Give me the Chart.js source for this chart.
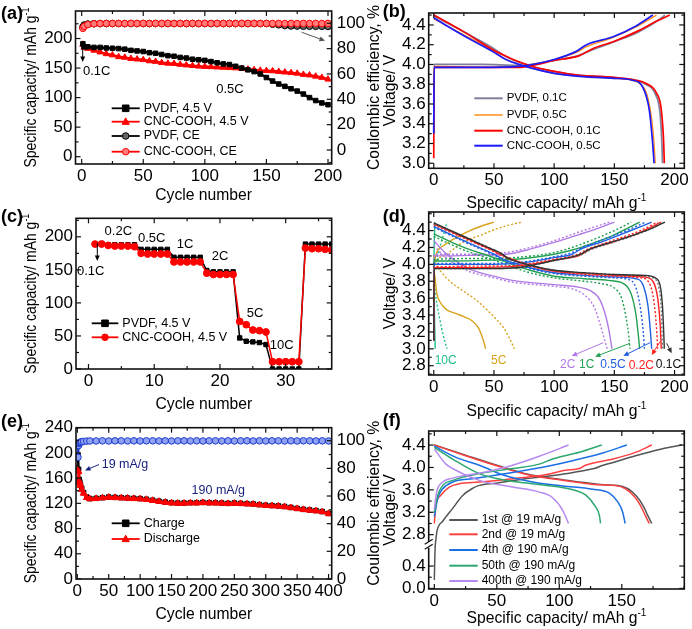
<!DOCTYPE html>
<html><head><meta charset="utf-8">
<script src="https://cdn.jsdelivr.net/npm/chart.js@4.4.1/dist/chart.umd.min.js"></script>
<style>
html,body{margin:0;padding:0;background:#fff;width:692px;height:629px;overflow:hidden;position:relative}
canvas{position:absolute}
</style></head><body>
<canvas id="ca"></canvas><canvas id="cb"></canvas><canvas id="cc"></canvas>
<canvas id="cd"></canvas><canvas id="ce"></canvas><canvas id="cf"></canvas>
<script>
// ---------------- DATA ----------------
// (a) cycling at 4.5 V
const cyclesA = [1,2,5,10,15,20,25,30,35,40,45,50,55,60,65,70,75,80,85,90,95,100,105,110,115,120,125,130,135,140,145,150,155,160,165,170,175,180,185,190,195,200];
const capPVDF_A = [191,186,186,185,185,184,183.5,183,182,180,179,178,176,175,173,171,170,168,167,165,164,163,161,159,157,156,153,150,147,144,140,134,128,123,119,115,111,106,100,95,91,88];
const capCNC_A = [190,185,183,180,177,174,172,169,168,166,165,164,162,161,159,158,157.5,156,155,154,153,152.5,152,151.5,151,150.5,150,149,148,147,146,145.5,145,144,143,142,141,139,138,136,134,131];
const cePVDF_A = [97,98.6,99.4,99.7,99.8,99.8,99.8,99.8,99.8,99.8,99.8,99.8,99.8,99.8,99.8,99.8,99.8,99.8,99.8,99.8,99.8,99.8,99.8,99.8,99.8,99.8,99.8,99.8,99.8,99.8,99.8,99.8,99.3,98.8,98.2,97.9,97.8,97.7,97.7,97.6,97.6,97.5];
const ceCNC_A = [96,97.5,99,99.6,99.8,99.9,99.8,99.9,99.8,99.9,99.8,99.9,99.8,99.9,99.8,99.9,99.8,99.9,99.8,99.9,99.8,99.9,99.8,99.9,99.8,99.9,99.8,99.9,99.8,99.9,99.8,99.9,99.8,99.9,99.8,99.9,99.8,99.9,99.8,99.9,99.8,99.9];
const ticksXA = [0,50,100,150,200], ticksYA = [0,50,100,150,200], ticksY2A = [0,20,40,60,80,100];

// (b) voltage profiles [capacity, voltage]
const bPVDF01_ch = [[0,3.3],[0.3,4.0],[5,4.0],[40,4.0],[70,3.99],[80,4.0],[100,4.04],[120,4.09],[130,4.14],[150,4.23],[170,4.33],[188,4.46],[192,4.5]];
const bPVDF01_dc = [[0,4.49],[25,4.33],[50,4.16],[57,4.1],[65,4.05],[82,3.98],[100,3.93],[121,3.89],[149,3.87],[168,3.84],[176,3.8],[184,3.7],[188,3.5],[189.5,3.2],[190,3.0]];
const bPVDF05_ch = [[0,3.3],[0.3,3.98],[5,3.98],[40,3.97],[70,3.98],[82,4.0],[100,4.05],[118,4.12],[127,4.18],[148,4.27],[168,4.38],[185,4.5]];
const bPVDF05_dc = [[0,4.46],[25,4.3],[50,4.13],[60,4.05],[82,3.96],[100,3.91],[121,3.88],[149,3.86],[165,3.84],[172,3.8],[177,3.7],[181,3.45],[183,3.2],[184,3.0]];
const bCNC01_ch = [[0,3.05],[0.3,3.97],[5,3.97],[40,3.97],[70,3.97],[82,3.99],[100,4.04],[121,4.09],[132,4.16],[149,4.23],[168,4.33],[187,4.45],[196,4.5]];
const bCNC01_dc = [[0,4.5],[25,4.33],[49,4.15],[57,4.1],[66,4.05],[82,3.98],[100,3.93],[121,3.89],[149,3.87],[168,3.84],[176,3.81],[185,3.71],[189,3.54],[191,3.2],[191.5,3.0]];
const bCNC05_ch = [[0,3.3],[0.3,3.97],[5,3.97],[40,3.97],[70,3.98],[82,4.0],[100,4.05],[118,4.13],[127,4.2],[149,4.28],[168,4.39],[182,4.5]];
const bCNC05_dc = [[0,4.47],[25,4.29],[49,4.13],[60,4.05],[82,3.96],[100,3.91],[121,3.88],[149,3.86],[165,3.84],[174,3.76],[179,3.54],[181.5,3.25],[183,3.0]];
const ticksXB = [0,50,100,150,200], ticksYB = [3.0,3.2,3.4,3.6,3.8,4.0,4.2,4.4];

// (c) rate capability
const cyclesC = [1,2,3,4,5,6,7,8,9,10,11,12,13,14,15,16,17,18,19,20,21,22,23,24,25,26,27,28,29,30,31,32,33,34,35,36,37];
const capPVDF_C = [189,190,188,188,188,188,188,181,181,181,181,181,169,169,169,169,169,149,147,147,147,147,47,42,41,40,37,0,0,0,0,0,189,189,189,189,189];
const capCNC_C = [189,189,187,186,186,186,185,175,174,174,174,174,162,162,162,162,162,145,143,143,143,143,72,67,59,58,56,11,11,11,11,11,183,182,182,181,180];
const ticksXC = [0,10,20,30], ticksYC = [0,50,100,150,200];

// (d) profiles at various rates: solid = PVDF, dotted = CNC-COOH
const d01s_ch = [[0,3.1],[0.3,3.95],[5,3.95],[40,3.95],[70,3.96],[85,4.0],[105,4.06],[122,4.12],[128,4.17],[140,4.23],[160,4.32],[180,4.42],[192,4.5]];
const d01s_dc = [[0,4.49],[25,4.33],[50,4.17],[55,4.14],[62,4.07],[80,3.99],[100,3.93],[125,3.9],[150,3.88],[175,3.87],[184,3.84],[188,3.75],[190,3.5],[191,3.2],[191.5,3.0]];
const d01d_ch = [[0,3.1],[0.3,3.95],[5,3.95],[40,3.95],[70,3.96],[85,4.0],[105,4.06],[122,4.11],[130,4.17],[142,4.23],[160,4.31],[180,4.42],[190,4.5]];
const d01d_dc = [[0,4.48],[25,4.33],[50,4.17],[55,4.13],[62,4.07],[80,3.99],[100,3.93],[125,3.9],[150,3.88],[175,3.86],[183,3.83],[187,3.72],[189,3.45],[190,3.0]];
const d02s_ch = [[0,3.1],[0.3,3.96],[5,3.96],[60,3.97],[80,4.0],[100,4.05],[120,4.1],[130,4.18],[150,4.27],[170,4.37],[189,4.5]];
const d02s_dc = [[0,4.48],[25,4.32],[50,4.16],[58,4.1],[80,3.99],[100,3.92],[125,3.89],[150,3.87],[175,3.85],[182,3.8],[186,3.6],[188,3.3],[189,3.0]];
const d02d_ch = [[0,3.1],[0.3,3.97],[60,3.98],[80,4.01],[100,4.06],[118,4.11],[128,4.18],[150,4.29],[170,4.39],[186,4.5]];
const d02d_dc = [[0,4.47],[25,4.31],[50,4.15],[58,4.09],[80,3.98],[100,3.92],[125,3.88],[150,3.86],[172,3.84],[179,3.78],[183,3.55],[185,3.25],[186,3.0]];
const d05s_ch = [[0,3.1],[0.3,4.0],[5,4.0],[50,4.0],[75,4.02],[100,4.08],[115,4.12],[122,4.18],[140,4.27],[160,4.38],[181,4.5]];
const d05s_dc = [[0,4.45],[25,4.28],[50,4.12],[58,4.06],[80,3.96],[100,3.9],[125,3.87],[150,3.85],[168,3.83],[174,3.75],[178,3.5],[180,3.2],[181,3.0]];
const d05d_ch = [[0,3.1],[0.3,4.01],[50,4.01],[75,4.03],[100,4.09],[115,4.14],[122,4.19],[140,4.29],[160,4.4],[176,4.5]];
const d05d_dc = [[0,4.44],[25,4.27],[50,4.11],[58,4.05],[80,3.95],[100,3.89],[125,3.86],[150,3.84],[162,3.82],[168,3.72],[172,3.45],[174,3.2],[175,3.0]];
const d1s_ch = [[0,3.1],[0.3,4.04],[5,4.04],[50,4.05],[75,4.07],[100,4.12],[115,4.17],[130,4.24],[150,4.35],[171,4.5]];
const d1s_dc = [[0,4.36],[25,4.2],[50,4.08],[65,4.0],[80,3.93],[100,3.86],[125,3.83],[145,3.81],[158,3.77],[164,3.65],[168,3.4],[170,3.15],[171,3.0]];
const d1d_ch = [[0,3.1],[0.3,4.06],[50,4.07],[75,4.09],[100,4.14],[115,4.2],[130,4.28],[150,4.4],[164,4.5]];
const d1d_dc = [[0,4.33],[25,4.17],[50,4.05],[65,3.97],[80,3.9],[100,3.84],[125,3.8],[140,3.77],[150,3.72],[156,3.6],[160,3.35],[162,3.15],[163,3.0]];
const d2s_ch = [[0,3.1],[0.3,4.1],[5,4.1],[40,4.11],[60,4.12],[80,4.18],[100,4.26],[120,4.35],[135,4.42],[150,4.5]];
const d2s_dc = [[0,4.28],[10,4.13],[29,3.95],[50,3.86],[65,3.81],[100,3.76],[120,3.73],[130,3.69],[138,3.58],[143,3.38],[146,3.18],[148,3.0]];
const d2d_ch = [[0,3.1],[0.3,4.12],[5,4.12],[40,4.12],[60,4.14],[80,4.2],[100,4.28],[120,4.38],[135,4.45],[146,4.5]];
const d2d_dc = [[0,4.22],[10,4.08],[29,3.92],[50,3.84],[65,3.79],[100,3.74],[115,3.71],[125,3.64],[133,3.5],[138,3.3],[142,3.1],[144,3.0]];
const d5s_ch = [[0,3.9],[1,4.05],[2.5,4.14],[8,4.22],[19,4.32],[30,4.4],[41,4.46],[50,4.5]];
const d5s_dc = [[0,3.95],[1,3.85],[2.5,3.66],[5,3.56],[10,3.47],[18,3.42],[25,3.38],[32,3.33],[37,3.25],[40,3.15],[42,3.06],[43,3.0]];
const d5d_ch = [[0,3.95],[3,4.05],[10,4.11],[24,4.26],[38,4.34],[52,4.42],[64,4.47],[73,4.5]];
const d5d_dc = [[0,4.1],[3,3.98],[8,3.88],[15,3.78],[25,3.68],[35,3.58],[45,3.45],[52,3.35],[58,3.25],[63,3.12],[67,3.0]];
const d10s_ch = [[0,3.95],[0.5,4.3],[1,4.5]];
const d10s_dc = [[0,3.9],[0.5,3.5],[1.2,3.0]];
const d10d_ch = [[0,3.95],[3,4.1],[6,4.25],[9,4.4],[11,4.5]];
const d10d_dc = [[0,3.9],[1,3.7],[3,3.5],[5,3.35],[8,3.15],[11,3.0]];
const ticksXD = [0,50,100,150,200], ticksYD = [2.8,3.0,3.2,3.4,3.6,3.8,4.0,4.2,4.4];

// (e) long cycling
const cyclesE = [1,2,3,4,5,7,10,15,20,30,40,50,60,70,80,90,100,110,120,130,140,150,160,170,180,190,200,210,220,230,240,250,260,270,280,290,300,310,320,330,340,350,360,370,380,390,400];
const chargeE = [196,174,158,154,150,144,137,130,127.5,128,129,130,129.5,129,128.5,128,127.5,126.5,125,123.5,122,121,120.5,120.5,121,121,121.5,121,121,120.5,120,120.5,120,119.5,119,118,117,116.5,116,115,113.5,112,110.5,109.5,108.5,107,104];
const dischargeE = [172,170,155,152,148,142,136,129,127,127.5,128.5,129.5,129,128.5,128,127.5,127,126,124.5,123,121.5,120.5,120,120,120.5,120.5,121,120.5,120.5,120,119.5,120,119.5,119,118.5,117.5,116.5,116,115.5,114.5,113,111.5,110,109,108,106.5,103.5];
const ceE = [88,96.5,98,98.6,99,99.3,99.5,99.7,99.8,99.8,99.9,99.8,99.9,99.9,99.8,99.9,99.8,99.9,99.9,99.8,99.9,99.8,99.9,99.9,99.8,99.9,99.8,99.9,99.9,99.8,99.9,99.8,99.9,99.9,99.8,99.9,99.8,99.9,99.9,99.8,99.9,99.8,99.9,99.9,99.8,99.9,99.8];
const ticksXE = [0,50,100,150,200,250,300,350,400], ticksYE = [0,40,80,120,160,200,240], ticksY2E = [0,20,40,60,80,100];

// (f) profiles at selected cycles (with axis break below 2.6 V)
const f1_ch = [[0,0.15],[0.3,0.45],[0.7,0.75],[1.2,2.7],[2,2.85],[6.7,3.04],[14.7,3.27],[22.7,3.5],[30,3.62],[36,3.68],[49,3.72],[70,3.79],[100,3.87],[121,3.95],[128,3.98],[135,4.04],[143,4.09],[161,4.21],[182,4.33],[198,4.4]];
const f1_dc = [[0,4.4],[25,4.22],[50,4.04],[75,3.88],[100,3.79],[120,3.73],[135,3.69],[147,3.68],[155,3.62],[162,3.48],[167,3.32],[171,3.13],[174,3.0]];
const f2_ch = [[0,3.0],[1.3,3.33],[5,3.5],[12,3.65],[20,3.71],[36,3.74],[63,3.8],[89,3.87],[105,3.95],[116,3.98],[121,4.04],[143,4.15],[161,4.27],[174,4.4]];
const f2_dc = [[0,4.4],[25,4.21],[50,4.03],[75,3.87],[100,3.78],[120,3.72],[132,3.69],[145,3.68],[153,3.62],[160,3.48],[165,3.32],[169,3.13],[172,3.0]];
const f4_ch = [[0,3.12],[2.7,3.45],[6.7,3.62],[14.7,3.74],[30.6,3.8],[49,3.86],[73,3.95],[94.6,4.04],[110.6,4.12],[132,4.24],[154,4.4]];
const f4_dc = [[0,4.38],[17.3,4.18],[36,4.04],[54.6,3.87],[78.6,3.74],[102.6,3.67],[126.6,3.61],[140,3.54],[146.6,3.39],[150.6,3.21],[152.7,3.0]];
const f50_ch = [[0,3.2],[2.7,3.5],[6.7,3.68],[14.7,3.77],[36,3.89],[62.6,3.98],[84,4.06],[94.6,4.15],[116,4.27],[134,4.4]];
const f50_dc = [[0,4.36],[14.7,4.15],[36,3.89],[57,3.77],[78.6,3.71],[100,3.65],[113,3.59],[121,3.51],[128,3.33],[132,3.15],[133,3.0]];
const f400_ch = [[0,3.25],[1.9,3.56],[6.7,3.74],[14.7,3.81],[41,3.92],[62.6,4.04],[84,4.2],[107.4,4.4]];
const f400_dc = [[0,4.33],[9.3,4.06],[17.3,3.95],[36,3.77],[62.6,3.65],[84,3.56],[94.6,3.46],[102.6,3.24],[107.4,3.0]];
const ticksXF = [0,50,100,150], ticksYF = [0.0,0.4,2.8,3.2,3.6,4.0,4.4];
const labelsYF = ['0.0','0.4','2.8','3.2','3.6','4.0','4.4'];

// ---------------- RENDERING ----------------
const FONT = '"Liberation Sans", Arial, sans-serif';
Chart.defaults.font.family = FONT;
Chart.defaults.color = '#000';
Chart.defaults.animation = false;
Chart.defaults.events = [];

const BRK = 1.84;                     // offset of the lower (broken) segment in (f)
const brk = v => v < 1.5 ? v + BRK : v;
const pts = (xs, ys) => xs.map((x, i) => ({x, y: ys[i]}));
const pairs = (arr, f) => arr.map(p => ({x: p[0], y: f ? f(p[1]) : p[1]}));
const minors = (step, lo, hi, skip) => { const r = []; for (let v = Math.ceil(lo/step)*step; v <= hi + 1e-9; v += step) { const vv = +v.toFixed(6); if (!skip.some(s => Math.abs(s - vv) < 1e-6)) r.push(vv); } return r; };

function mkAxis(pos, min, max, ticks, size, labelFn, pad, show) {
  return {
    type: 'linear', position: pos, min, max,
    grid: {display: false, drawTicks: false}, border: {display: false}, title: {display: false},
    ticks: {display: show !== false, font: {size: 17}, color: '#000', padding: pad, autoSkip: false, maxRotation: 0, minRotation: 0,
            callback: labelFn || (v => String(v))},
    afterBuildTicks: s => { s.ticks = ticks.map(v => ({value: v})); },
    afterFit: s => { if (pos === 'bottom') s.height = size; else s.width = size;
      s.paddingLeft = s.paddingRight = s.paddingTop = s.paddingBottom = 0; }
  };
}

function line(ctx, x1, y1, x2, y2) { ctx.beginPath(); ctx.moveTo(x1, y1); ctx.lineTo(x2, y2); ctx.stroke(); }

function marker(ctx, style, x, y, r, stroke, fill) {
  ctx.save(); ctx.fillStyle = fill || stroke; ctx.strokeStyle = stroke; ctx.lineWidth = 1;
  ctx.beginPath();
  if (style === 'rect') ctx.rect(x - r, y - r, 2*r, 2*r);
  else if (style === 'triangle') { ctx.moveTo(x, y - r*1.15); ctx.lineTo(x + r*1.1, y + r*0.8); ctx.lineTo(x - r*1.1, y + r*0.8); ctx.closePath(); }
  else if (style === 'circle') ctx.arc(x, y, r, 0, Math.PI*2);
  ctx.fill(); ctx.stroke(); ctx.restore();
}

function drawText(ctx, o, ox, oy) {
  ctx.save();
  const size = o.size || 13;
  const main = `${o.bold ? 'bold ' : ''}${size}px ${FONT}`;
  ctx.fillStyle = o.color || '#000';
  ctx.textBaseline = 'middle';
  ctx.translate(o.x - ox, o.y - oy);
  if (o.rot) ctx.rotate(o.rot);
  ctx.font = main;
  if (o.sup) {
    const small = `${Math.round(size*0.65)}px ${FONT}`;
    const w1 = ctx.measureText(o.t).width;
    ctx.font = small; const w2 = ctx.measureText(o.sup).width;
    const total = w1 + w2;
    if (o.maxW && total > o.maxW) ctx.scale(o.maxW/total, 1);
    ctx.textAlign = 'left';
    ctx.font = main; ctx.fillText(o.t, -total/2, 0);
    ctx.font = small; ctx.fillText(o.sup, -total/2 + w1, -size*0.36);
  } else {
    ctx.textAlign = o.align || 'center';
    ctx.fillText(o.t, 0, 0);
  }
  ctx.restore();
}

function drawArrow(ctx, a, ox, oy) {
  const [x1, y1, x2, y2, col] = a;
  ctx.save(); ctx.strokeStyle = col; ctx.fillStyle = col; ctx.lineWidth = 1;
  const X1 = x1 - ox, Y1 = y1 - oy, X2 = x2 - ox, Y2 = y2 - oy;
  const ang = Math.atan2(Y2 - Y1, X2 - X1), h = 5.5;
  line(ctx, X1, Y1, X2 - Math.cos(ang)*h*0.8, Y2 - Math.sin(ang)*h*0.8);
  ctx.beginPath(); ctx.moveTo(X2, Y2);
  ctx.lineTo(X2 - h*Math.cos(ang) + h*0.45*Math.sin(ang), Y2 - h*Math.sin(ang) - h*0.45*Math.cos(ang));
  ctx.lineTo(X2 - h*Math.cos(ang) - h*0.45*Math.sin(ang), Y2 - h*Math.sin(ang) + h*0.45*Math.cos(ang));
  ctx.closePath(); ctx.fill(); ctx.restore();
}

function makeDecor(rect, cfg) {
  return {
    id: 'decor',
    afterDraw(chart) {
      const ctx = chart.ctx, ca = chart.chartArea, ox = rect.x, oy = rect.y;
      ctx.save();
      ctx.strokeStyle = '#111'; ctx.lineWidth = 1.2;
      const sx = chart.scales.x, sy = chart.scales.y;
      const tickX = (v, len) => { const p = sx.getPixelForValue(v); line(ctx, p, ca.bottom, p, ca.bottom - len); line(ctx, p, ca.top, p, ca.top + len); };
      sx.ticks.forEach(t => tickX(t.value, 5));
      (cfg.xm || []).forEach(v => tickX(v, 3));
      const tickY = (s, v, len, l, r) => { const p = s.getPixelForValue(v); if (l) line(ctx, ca.left, p, ca.left + len, p); if (r) line(ctx, ca.right, p, ca.right - len, p); };
      sy.ticks.forEach(t => tickY(sy, t.value, 5, true, !cfg.y2));
      (cfg.ym || []).forEach(v => tickY(sy, v, 3, true, !cfg.y2));
      if (cfg.y2) { const s2 = chart.scales.y2; s2.ticks.forEach(t => tickY(s2, t.value, 5, false, true)); (cfg.y2m || []).forEach(v => tickY(s2, v, 3, false, true)); }
      // labels of the broken y axis in (f), placed through the y scale
      if (cfg.ylabels) {
        ctx.save(); ctx.font = `17px ${FONT}`; ctx.textAlign = 'right'; ctx.textBaseline = 'middle'; ctx.fillStyle = '#000';
        cfg.ylabelVals.forEach((v, i) => ctx.fillText(cfg.ylabels[i], ca.left - 3, Math.min(sy.getPixelForValue(v), ca.bottom - 1)));
        ctx.restore();
      }
      ctx.lineWidth = 1.6; ctx.strokeStyle = '#111';
      ctx.strokeRect(ca.left, ca.top, ca.right - ca.left, ca.bottom - ca.top);
      if (cfg.brk) {
        const p = sy.getPixelForValue(cfg.brk);
        ctx.fillStyle = '#fff'; ctx.fillRect(ca.left - 3, p - 3, 6, 6);
        ctx.lineWidth = 1.2; ctx.strokeStyle = '#111';
        line(ctx, ca.left - 4, p - 0.5, ca.left + 4, p - 5.5);
        line(ctx, ca.left - 4, p + 4.5, ca.left + 4, p - 0.5);
      }
      (cfg.legend || []).forEach(e => {
        const X = e.x - ox, Y = e.y - oy;
        ctx.save(); ctx.strokeStyle = e.color; ctx.lineWidth = e.lw || 1.8;
        line(ctx, X, Y, X + e.len, Y);
        if (e.marker) marker(ctx, e.marker, X + e.len/2, Y, 3.3, e.color, e.fill);
        ctx.restore();
        drawText(ctx, {t: e.text, x: e.x + e.len + 4, y: e.y, size: e.size || 12.5, align: 'left'}, ox, oy);
      });
      (cfg.arrows || []).forEach(a => drawArrow(ctx, a, ox, oy));
      (cfg.texts || []).forEach(t => drawText(ctx, t, ox, oy));
      ctx.restore();
    }
  };
}

function panel(id, rect, plot, cfg) {
  const cv = document.getElementById(id);
  cv.width = rect.w; cv.height = rect.h;
  Object.assign(cv.style, {left: rect.x + 'px', top: rect.y + 'px', width: rect.w + 'px', height: rect.h + 'px'});
  const leftW = plot.L - rect.x, topP = plot.T - rect.y, botH = rect.y + rect.h - plot.B, rightW = rect.x + rect.w - plot.R;
  const scales = {
    x: mkAxis('bottom', cfg.x[0], cfg.x[1], cfg.xt, botH, cfg.xl, cfg.xpad !== undefined ? cfg.xpad : 2),
    y: mkAxis('left', cfg.y[0], cfg.y[1], cfg.yt, leftW, cfg.yl, 3, !cfg.ylabels)
  };
  if (cfg.y2) scales.y2 = mkAxis('right', cfg.y2[0], cfg.y2[1], cfg.y2t, rightW, cfg.y2l, 5);
  return new Chart(cv, {
    type: 'scatter',
    data: {datasets: cfg.datasets},
    options: {
      responsive: false, animation: false, maintainAspectRatio: false,
      layout: {autoPadding: false, padding: {left: 0, top: topP, right: cfg.y2 ? 0 : rightW, bottom: 0}},
      scales, plugins: {legend: {display: false}, tooltip: {enabled: false}}
    },
    plugins: [makeDecor(rect, cfg)]
  });
}

const lineDS = (data, color, o = {}) => Object.assign({data, borderColor: color, backgroundColor: color, showLine: true,
  borderWidth: 1.5, pointRadius: 0, pointHoverRadius: 0, tension: 0}, o);
const curve = (arr, color, dotted, f, lw) => lineDS(pairs(arr, f), color, {borderWidth: lw || 1.4, borderDash: dotted ? [2, 2] : [], cubicInterpolationMode: 'monotone'});
const mk = (style, r, fill, bw) => ({pointStyle: style, pointRadius: r, pointBackgroundColor: fill, pointBorderWidth: bw || 1});

const TS = 15.7;            // axis title size
const HP = -Math.PI/2;
const fix1 = v => v.toFixed(1);

// ---- (a) ----
panel('ca', {x: 0, y: 0, w: 390, h: 210}, {L: 75.5, R: 331.7, T: 11, B: 164}, {
  x: [-5, 203], xt: ticksXA, xm: minors(25, -5, 203, ticksXA),
  y: [-12.4, 246.6], yt: ticksYA, ym: minors(25, -12.4, 246.6, ticksYA),
  y2: [-11.05, 109.7], y2t: ticksY2A, y2m: minors(10, -11, 109.7, ticksY2A),
  datasets: [
    lineDS(pts(cyclesA, ceCNC_A), '#ff0000', Object.assign({yAxisID: 'y2', borderWidth: 2.5, pointBorderColor: '#ff0000'}, mk('circle', 3.3, '#ff7a7a'))),
    lineDS(pts(cyclesA, cePVDF_A), '#000', Object.assign({yAxisID: 'y2', borderWidth: 2.5, pointBorderColor: '#000'}, mk('circle', 3.3, '#666'))),
    lineDS(pts(cyclesA, capPVDF_A), '#000', Object.assign({borderWidth: 2.5}, mk('rect', 3.2, '#000'))),
    lineDS(pts(cyclesA, capCNC_A), '#ff0000', Object.assign({borderWidth: 2.5}, mk('triangle', 3.6, '#ff0000')))
  ],
  legend: [
    {x: 111.7, y: 108.3, len: 28, color: '#000', marker: 'rect', text: 'PVDF, 4.5 V'},
    {x: 111.7, y: 121.7, len: 28, color: '#ff0000', marker: 'triangle', text: 'CNC-COOH, 4.5 V'},
    {x: 111.7, y: 136, len: 28, color: '#000', marker: 'circle', fill: '#666', text: 'PVDF, CE'},
    {x: 111.7, y: 151.7, len: 28, color: '#ff0000', marker: 'circle', fill: '#ff7a7a', text: 'CNC-COOH, CE'}
  ],
  arrows: [[82.7, 43, 82.7, 62, '#000'], [301.7, 32.3, 325, 40.7, '#555']],
  texts: [
    {t: '(a)', x: 1, y: 14, size: 18, bold: true, align: 'left'},
    {t: '0.1C', x: 96.7, y: 71.7, size: 13},
    {t: '0.5C', x: 230, y: 89.3, size: 13},
    {t: 'Cycle number', x: 203.6, y: 196, size: TS},
    {t: 'Specific capacity/ mAh g', sup: '-1', x: 31.7, y: 87.5, size: TS, rot: HP, maxW: 160},
    {t: 'Coulombic efficiency, %', x: 375, y: 87.5, size: TS, rot: HP}
  ]
});

// ---- (b) ----
panel('cb', {x: 380, y: 0, w: 340, h: 215}, {L: 428.7, R: 684.3, T: 13, B: 168.3}, {
  x: [-4.2, 208.1], xt: ticksXB, xm: minors(25, -4.2, 208.1, ticksXB),
  y: [2.949, 4.521], yt: ticksYB, yl: fix1, ym: minors(0.1, 2.95, 4.52, ticksYB),
  datasets: [
    curve(bCNC05_ch, '#1a1aff', false, null, 1.7), curve(bCNC05_dc, '#1a1aff', false, null, 1.7),
    curve(bCNC01_ch, '#ff0000', false, null, 1.7), curve(bCNC01_dc, '#ff0000', false, null, 1.7),
    curve(bPVDF05_ch, '#ff8c1a', false, null, 1.3), curve(bPVDF05_dc, '#ff8c1a', false, null, 1.3),
    curve(bPVDF01_ch, '#7f7f9a', false, null, 1.7), curve(bPVDF01_dc, '#7f7f9a', false, null, 1.7)
  ],
  legend: [
    {x: 474.3, y: 98.3, len: 28.4, color: '#7f7f9a', text: 'PVDF, 0.1C', size: 11.5, lw: 2},
    {x: 474.3, y: 115, len: 28.4, color: '#ff8c1a', text: 'PVDF, 0.5C', size: 11.5, lw: 1.5},
    {x: 474.3, y: 130.7, len: 28.4, color: '#ff0000', text: 'CNC-COOH, 0.1C', size: 11.5, lw: 2},
    {x: 474.3, y: 145.7, len: 28.4, color: '#1a1aff', text: 'CNC-COOH, 0.5C', size: 11.5, lw: 2}
  ],
  texts: [
    {t: '(b)', x: 382.7, y: 12.3, size: 18, bold: true, align: 'left'},
    {t: 'Specific capacity/ mAh g', sup: '-1', x: 556.5, y: 204, size: TS},
    {t: 'Voltage/ V', x: 391, y: 90.5, size: TS, rot: HP}
  ]
});

// ---- (c) ----
panel('cc', {x: 0, y: 200, w: 390, h: 220}, {L: 76, R: 331.7, T: 218.3, B: 369}, {
  x: [-1.9, 37], xt: ticksXC, xm: minors(5, -1.9, 37, ticksXC),
  y: [0, 228], yt: ticksYC, ym: minors(25, 0, 228, ticksYC),
  datasets: [
    lineDS(pts(cyclesC, capCNC_C), '#ff0000', Object.assign({borderWidth: 1.5, pointBorderColor: '#ff0000'}, mk('circle', 3.4, '#ff0000'))),
    lineDS(pts(cyclesC, capPVDF_C), '#000', Object.assign({borderWidth: 1.5, pointBorderColor: '#000'}, mk('rect', 3.1, '#000')))
  ],
  legend: [
    {x: 91.7, y: 323.3, len: 26.6, color: '#000', marker: 'rect', text: 'PVDF, 4.5 V'},
    {x: 91.7, y: 337.3, len: 26.6, color: '#ff0000', marker: 'circle', text: 'CNC-COOH, 4.5 V'}
  ],
  arrows: [[97.3, 243, 97.3, 261, '#000']],
  texts: [
    {t: '(c)', x: 1, y: 217.3, size: 18, bold: true, align: 'left'},
    {t: '0.2C', x: 118.3, y: 231, size: 13}, {t: '0.5C', x: 151.7, y: 238.3, size: 13},
    {t: '1C', x: 185, y: 244.3, size: 13}, {t: '2C', x: 220, y: 256.7, size: 13},
    {t: '5C', x: 255, y: 313.3, size: 13}, {t: '10C', x: 281.7, y: 345, size: 13},
    {t: '0.1C', x: 90.7, y: 271.7, size: 13},
    {t: 'Cycle number', x: 203.9, y: 405, size: TS},
    {t: 'Specific capacity/ mAh g', sup: '-1', x: 31.7, y: 293.7, size: TS, rot: HP, maxW: 160}
  ]
});

// ---- (d) ----
const C01 = '#333333', C02 = '#ff2020', C05 = '#1f5fe0', C1 = '#22a052', C2 = '#b07ae6', C5 = '#d9a21b', C10 = '#1fc08a';
panel('cd', {x: 380, y: 200, w: 340, h: 222}, {L: 428.7, R: 684.3, T: 212, B: 375}, {
  x: [-4.2, 208.1], xt: ticksXD, xm: minors(25, -4.2, 208.1, ticksXD),
  y: [2.69, 4.62], yt: ticksYD, yl: fix1, ym: minors(0.1, 2.69, 4.62, ticksYD),
  datasets: [
    curve(d01s_ch, C01, false), curve(d01s_dc, C01, false), curve(d01d_ch, '#777', true), curve(d01d_dc, '#777', true),
    curve(d02s_ch, C02, false), curve(d02s_dc, C02, false), curve(d02d_ch, C02, true), curve(d02d_dc, C02, true),
    curve(d05s_ch, C05, false), curve(d05s_dc, C05, false), curve(d05d_ch, C05, true), curve(d05d_dc, C05, true),
    curve(d1s_ch, C1, false), curve(d1s_dc, C1, false), curve(d1d_ch, C1, true), curve(d1d_dc, C1, true),
    curve(d2s_ch, C2, false), curve(d2s_dc, C2, false), curve(d2d_ch, C2, true), curve(d2d_dc, C2, true),
    curve(d5s_ch, C5, false), curve(d5s_dc, C5, false), curve(d5d_ch, C5, true), curve(d5d_dc, C5, true),
    curve(d10s_ch, C10, false), curve(d10s_dc, C10, false), curve(d10d_ch, C10, true), curve(d10d_dc, C10, true)
  ],
  arrows: [[603.3, 342.7, 571.7, 356, C2], [630, 343.3, 595, 356.7, C1], [650, 342.7, 623.3, 356, C05],
           [660, 341.7, 651.7, 355, C02], [666.7, 343.3, 671.7, 353.3, C01]],
  texts: [
    {t: '(d)', x: 382.7, y: 216.7, size: 18, bold: true, align: 'left'},
    {t: '10C', x: 445.7, y: 360.5, size: 12, color: C10}, {t: '5C', x: 498.7, y: 360.5, size: 12, color: C5},
    {t: '2C', x: 567.7, y: 364.5, size: 12, color: C2}, {t: '1C', x: 586.7, y: 364.5, size: 12, color: C1},
    {t: '0.5C', x: 613, y: 364.5, size: 12, color: C05}, {t: '0.2C', x: 641.3, y: 365.5, size: 12, color: C02},
    {t: '0.1C', x: 668.5, y: 364.5, size: 12, color: '#111'},
    {t: 'Specific capacity/ mAh g', sup: '-1', x: 556.5, y: 411.7, size: TS},
    {t: 'Voltage/ V', x: 391, y: 293.5, size: TS, rot: HP}
  ]
});

// ---- (e) ----
const NAVY = '#1a237e';
panel('ce', {x: 0, y: 408, w: 390, h: 221}, {L: 76, R: 331.7, T: 427.7, B: 579}, {
  x: [-2.1, 405], xt: ticksXE, xm: minors(25, -2.1, 405, ticksXE),
  y: [-0.01, 240], yt: ticksYE, ym: minors(20, 0, 240, ticksYE),
  y2: [-0.01, 109.4], y2t: ticksY2E, y2m: minors(10, 0, 109.4, ticksY2E),
  datasets: [
    lineDS(pts(cyclesE, ceE), '#1e3ccf', Object.assign({yAxisID: 'y2', borderWidth: 2.5, pointBorderColor: '#1e3ccf'}, mk('circle', 3.3, '#8fa2f2'))),
    lineDS(pts(cyclesE, dischargeE), '#ff0000', Object.assign({borderWidth: 3}, mk('triangle', 3.8, '#ff0000'))),
    lineDS(pts(cyclesE, chargeE), '#000', Object.assign({borderWidth: 2.5}, mk('rect', 3.2, '#000')))
  ],
  legend: [
    {x: 111.7, y: 523.3, len: 28, color: '#000', marker: 'rect', text: 'Charge'},
    {x: 111.7, y: 539, len: 28, color: '#ff0000', marker: 'triangle', text: 'Discharge'}
  ],
  arrows: [[99, 464.5, 85, 470.5, NAVY]],
  texts: [
    {t: '(e)', x: 1, y: 421.7, size: 18, bold: true, align: 'left'},
    {t: '19 mA/g', x: 101.7, y: 465, size: 12.5, color: NAVY, align: 'left'},
    {t: '190 mA/g', x: 218.3, y: 491, size: 12.5, color: NAVY},
    {t: 'Cycle number', x: 203.9, y: 615, size: TS},
    {t: 'Specific capacity/ mAh g', sup: '-1', x: 31.7, y: 503.3, size: TS, rot: HP, maxW: 160},
    {t: 'Coulombic efficiency, %', x: 375, y: 503.3, size: TS, rot: HP}
  ]
});

// ---- (f) ----
const F1 = '#555555', F2 = '#ff4040', F4 = '#1a6ee6', F50 = '#2ca870', F400 = '#b58af0';
panel('cf', {x: 380, y: 408, w: 340, h: 221}, {L: 428.7, R: 684.3, T: 431, B: 589}, {
  x: [-4.5, 200], xt: ticksXF, xm: minors(25, -4.5, 200, ticksXF).concat([200]),
  y: [BRK - 0.01, 4.651], yt: ticksYF.map(brk), ylabels: labelsYF, ylabelVals: ticksYF.map(brk),
  ym: [0.2, 3.0, 3.4, 3.8, 4.2, 4.6].map(brk), brk: 2.62,
  datasets: [
    curve(f400_ch, F400, false, brk, 1.5), curve(f400_dc, F400, false, brk, 1.5),
    curve(f50_ch, F50, false, brk, 1.5), curve(f50_dc, F50, false, brk, 1.5),
    curve(f4_ch, F4, false, brk, 1.5), curve(f4_dc, F4, false, brk, 1.5),
    curve(f2_ch, F2, false, brk, 1.5), curve(f2_dc, F2, false, brk, 1.5),
    curve(f1_ch, F1, false, brk, 1.5), curve(f1_dc, F1, false, brk, 1.5)
  ],
  legend: [
    {x: 449.3, y: 520, len: 28.4, color: F1, text: '1st @ 19 mA/g', size: 12, lw: 2},
    {x: 449.3, y: 534.3, len: 28.4, color: F2, text: '2nd @ 19 mA/g', size: 12, lw: 2},
    {x: 449.3, y: 550, len: 28.4, color: F4, text: '4th @ 190 mA/g', size: 12, lw: 2},
    {x: 449.3, y: 565.7, len: 28.4, color: F50, text: '50th @ 190 mA/g', size: 12, lw: 2},
    {x: 449.3, y: 581, len: 28.4, color: F400, text: '400th @ 190 mA/g', size: 12, lw: 2}
  ],
  texts: [
    {t: '(f)', x: 382.7, y: 421, size: 18, bold: true, align: 'left'},
    {t: 'Specific capacity/ mAh g', sup: '-1', x: 556.5, y: 619, size: TS},
    {t: 'Voltage/ V', x: 391, y: 510, size: TS, rot: HP}
  ]
});
</script></body></html>
